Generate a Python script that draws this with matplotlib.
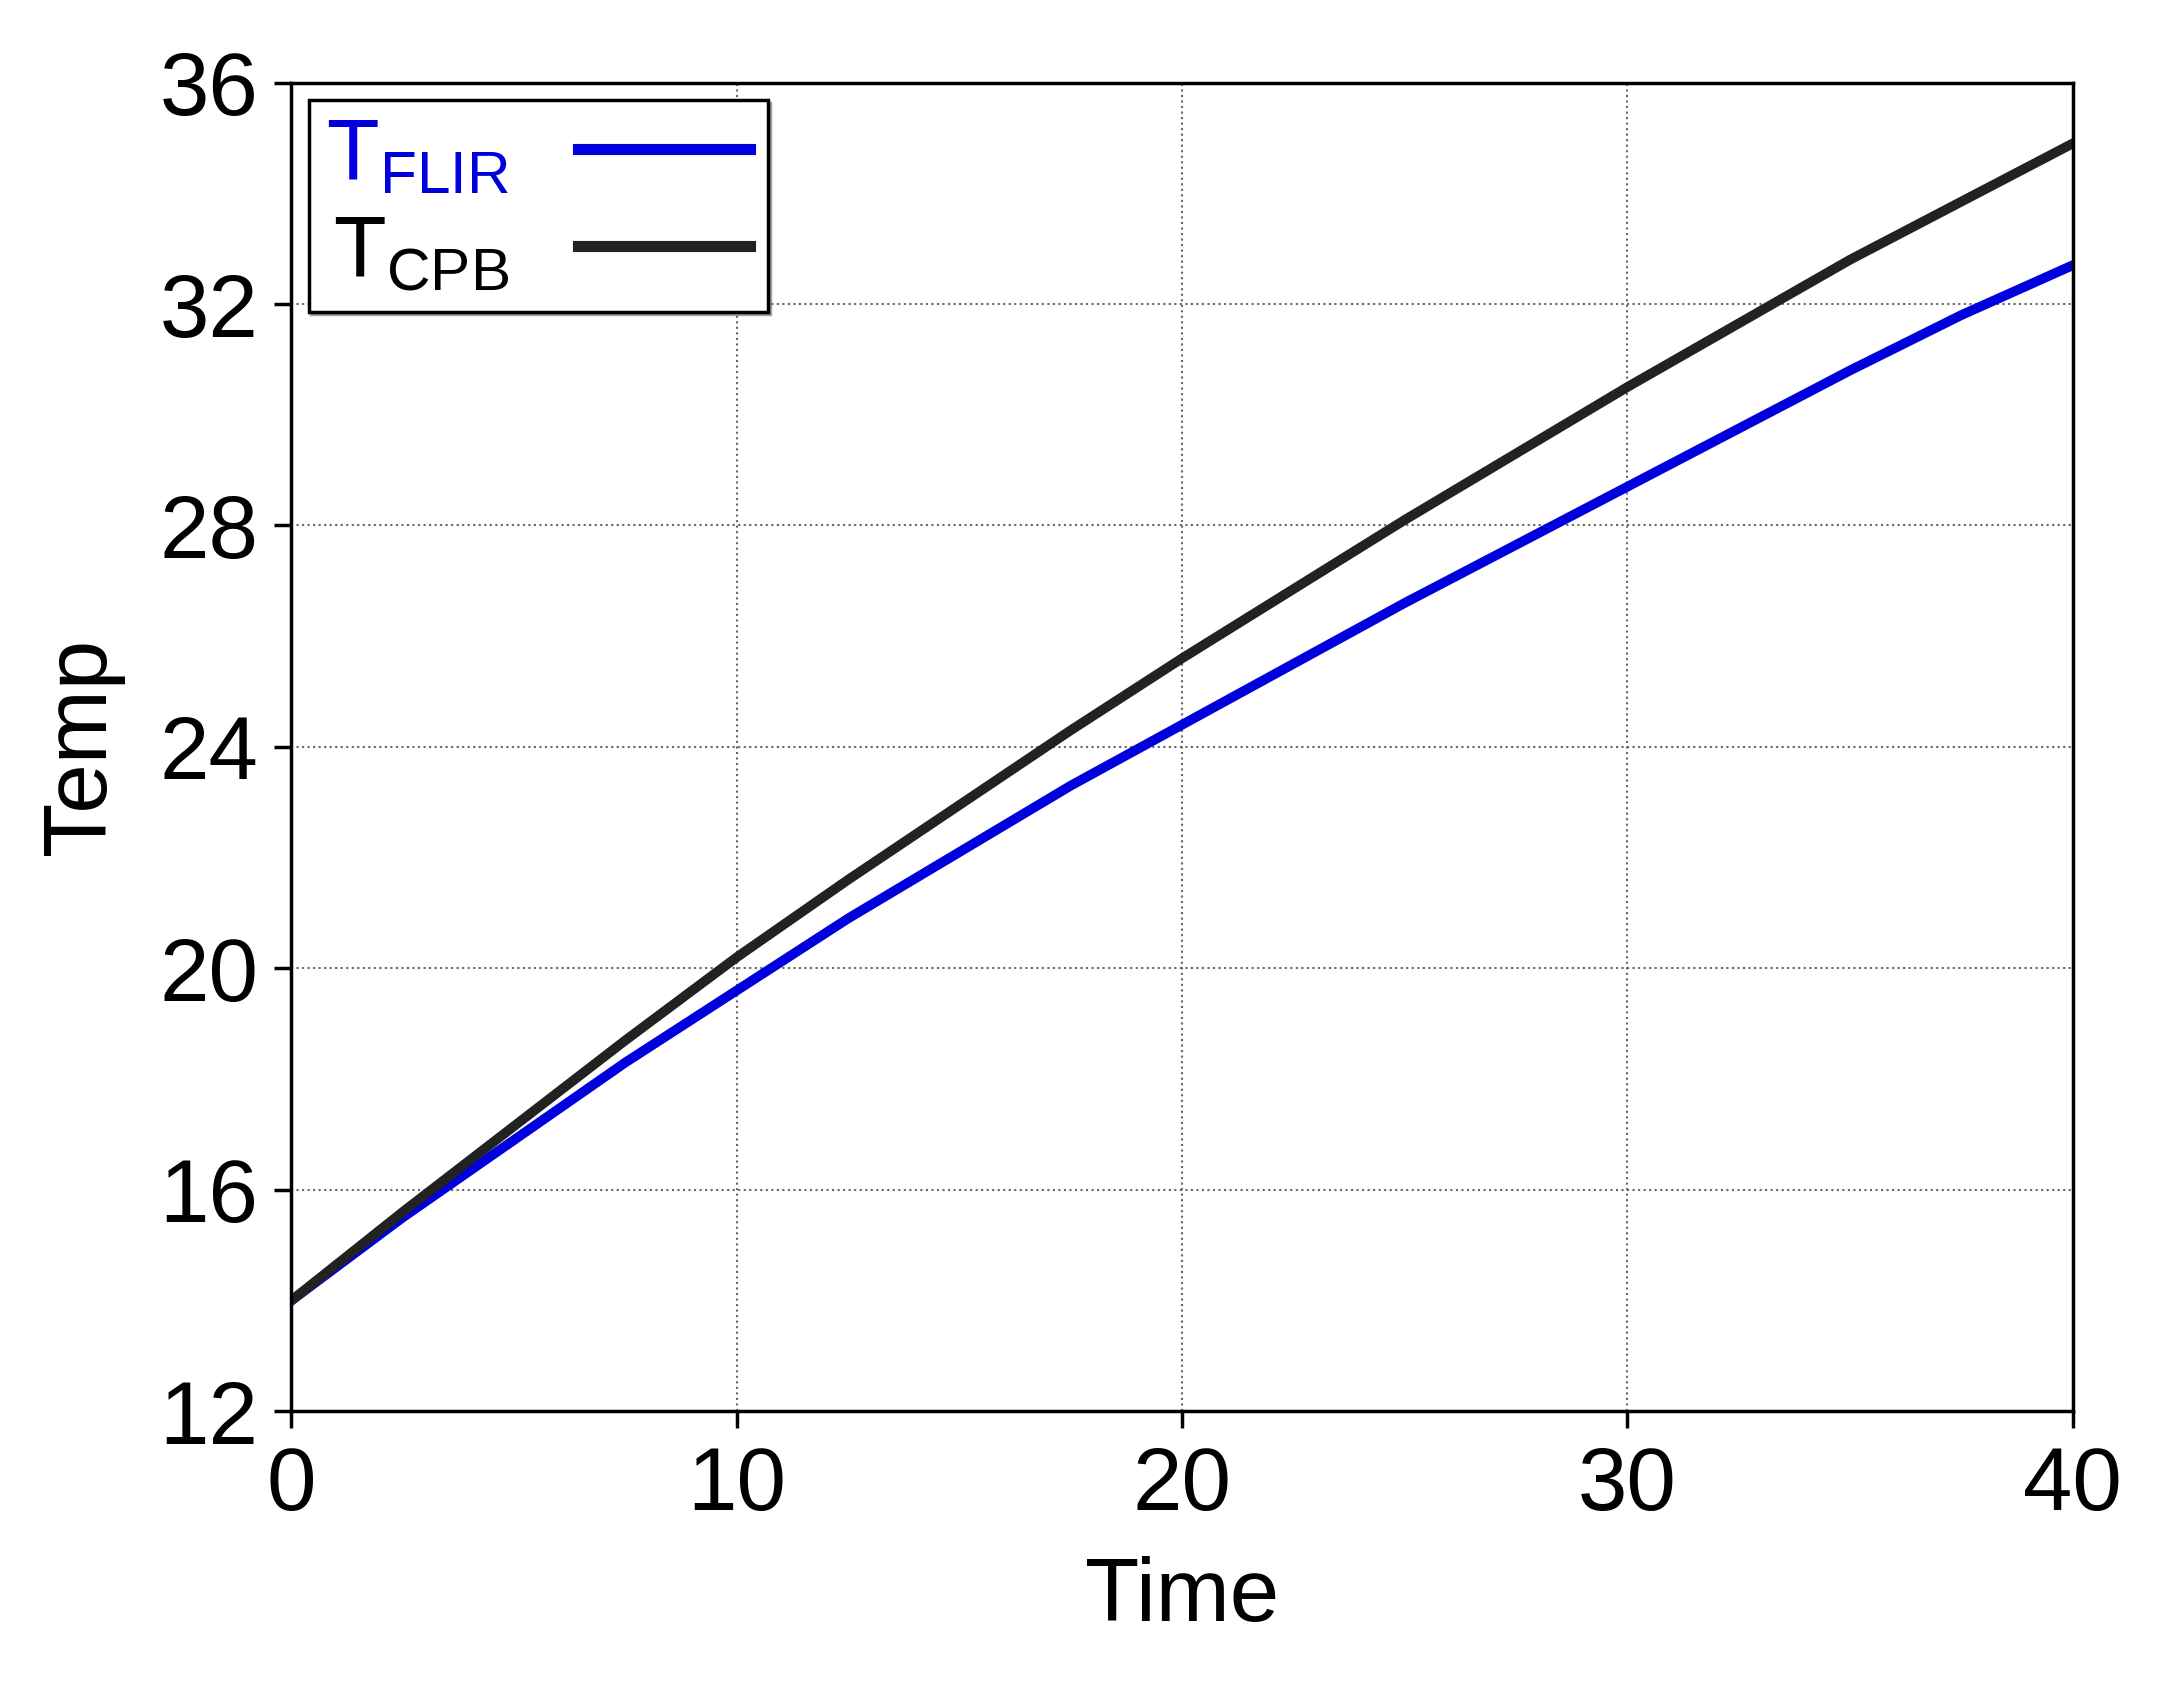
import matplotlib.pyplot as plt
from matplotlib.lines import Line2D

plt.rcParams['font.family'] = ['Liberation Sans', 'DejaVu Sans']
plt.rcParams['mathtext.fontset'] = 'custom'
plt.rcParams['mathtext.rm'] = 'Liberation Sans'

time = [0, 2.5, 5, 7.5, 10, 12.5, 15, 17.5, 20, 22.5, 25, 27.5, 30, 32.5, 35, 37.5, 40]
t_flir = [14.0, 15.5, 16.9, 18.3, 19.6, 20.9, 22.1, 23.3, 24.4, 25.5, 26.6, 27.65,
          28.7, 29.75, 30.8, 31.8, 32.7]
t_cpb = [14.0, 15.6, 17.15, 18.7, 20.2, 21.6, 22.95, 24.3, 25.6, 26.85, 28.1, 29.3,
         30.5, 31.65, 32.8, 33.85, 34.9]

fig = plt.figure(figsize=(21.59, 16.86), dpi=100)
ax = fig.add_axes([0.135, 0.163, 0.825, 0.788])

ax.plot(time, t_flir, color='#0000dd', lw=7)
ax.plot(time, t_cpb, color='#222222', lw=7)

ax.set_xlim(0, 40)
ax.set_ylim(12, 36)
ax.set_xticks([0, 10, 20, 30, 40])
ax.set_yticks([12, 16, 20, 24, 28, 32, 36])
ax.tick_params(labelsize=64, width=2.5, length=12, direction='out', pad=12)
ax.grid(True, linestyle=':', color='#666666', lw=1.5)
for s in ax.spines.values():
    s.set_linewidth(2.5)
ax.set_xlabel('Time', fontsize=64, labelpad=20)
ax.set_ylabel('Temp', fontsize=64, labelpad=25)

handles = [Line2D([], [], color='#0000dd', lw=8), Line2D([], [], color='#222222', lw=8)]
leg = ax.legend(handles, [r'T$_{\mathrm{FLIR}}$', r'T$_{\mathrm{CPB}}$'],
                loc='upper left', fontsize=62, markerfirst=False, shadow=True,
                fancybox=False, edgecolor='black', handlelength=2.0,
                borderaxespad=0.2, labelspacing=0.2, borderpad=0.2)
leg.get_frame().set_linewidth(2.5)
leg.get_texts()[0].set_color('#0000dd')

fig.savefig('out.png', dpi=100)
